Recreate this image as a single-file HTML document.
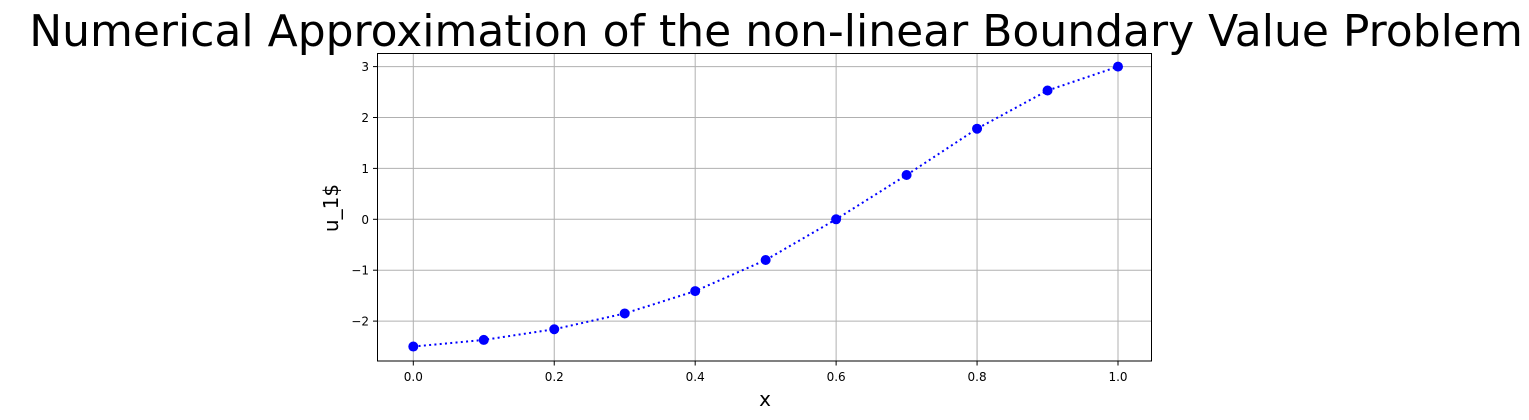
<!DOCTYPE html>
<html><head><meta charset="utf-8"><style>
body{margin:0;background:#fff;font-family:"DejaVu Sans","Liberation Sans",sans-serif;}
svg{display:block}
</style></head><body>
<svg id="chart" width="1529" height="420" xmlns="http://www.w3.org/2000/svg">
<rect width="1529" height="420" fill="#fff"/>
<text x="776" y="46" font-size="44" text-anchor="middle" fill="#000" font-family="DejaVu Sans, Liberation Sans, sans-serif">Numerical Approximation of the non-linear Boundary Value Problem</text>
<g id="grid"></g>
<g id="ticks"></g>
<g id="series"></g>
<rect x="377.5" y="53.5" width="774" height="307.5" fill="none" stroke="#000" stroke-width="1"/>
<text x="765" y="406" font-size="20" text-anchor="middle" fill="#000">x</text>
<text transform="translate(338,208) rotate(-90)" font-size="20" text-anchor="middle" fill="#000">u_1$</text>
</svg>
<script>
const xs = [0.0,0.1,0.2,0.3,0.4,0.5,0.6,0.7,0.8,0.9,1.0];
const us = [-2.5,-2.37,-2.16,-1.85,-1.41,-0.8,0.0,0.87,1.78,2.53,3.0];
const xTicks = [0.0,0.2,0.4,0.6,0.8,1.0];
const xTickLabels = ["0.0","0.2","0.4","0.6","0.8","1.0"];
const yTicks = [-2,-1,0,1,2,3];
const yTickLabels = ["\u22122","\u22121","0","1","2","3"];
const NS="http://www.w3.org/2000/svg";
function X(v){return 413.3+v*704.7;}
function Y(v){return 219.3-v*50.9;}
function mk(tag,attrs,parent){const e=document.createElementNS(NS,tag);for(const k in attrs)e.setAttribute(k,attrs[k]);parent.appendChild(e);return e;}
const grid=document.getElementById('grid'),ticks=document.getElementById('ticks'),ser=document.getElementById('series');
xTicks.forEach((t,i)=>{
  const x=X(t);
  const g=mk('line',{x1:x,x2:x,y1:53.5,y2:361,stroke:'#b0b0b0','stroke-width':1},grid);
  
  
  mk('line',{x1:x,x2:x,y1:361,y2:365.5,stroke:'#000'},ticks);
  const l=mk('text',{x:x,y:381,'font-size':12,'text-anchor':'middle',fill:'#000'},ticks);
  l.textContent=xTickLabels[i];
  
  
});
yTicks.forEach((t,i)=>{
  const y=Y(t);
  const g=mk('line',{x1:377.5,x2:1151.5,y1:y,y2:y,stroke:'#b0b0b0','stroke-width':1},grid);
  
  
  mk('line',{x1:373,x2:377.5,y1:y,y2:y,stroke:'#000'},ticks);
  const l=mk('text',{x:369,y:y+4.5,'font-size':12,'text-anchor':'end',fill:'#000'},ticks);
  l.textContent=yTickLabels[i];
  
  
});
const pl=mk('polyline',{points:xs.map((x,i)=>X(x)+','+Y(us[i])).join(' '),fill:'none',stroke:'#0000ff','stroke-width':2,'stroke-dasharray':'2,3.3'},ser);


xs.forEach((x,i)=>{
  const c=mk('circle',{cx:X(x),cy:Y(us[i]),r:5,fill:'#0000ff'},ser);
  
  
});
</script>
</body></html>
